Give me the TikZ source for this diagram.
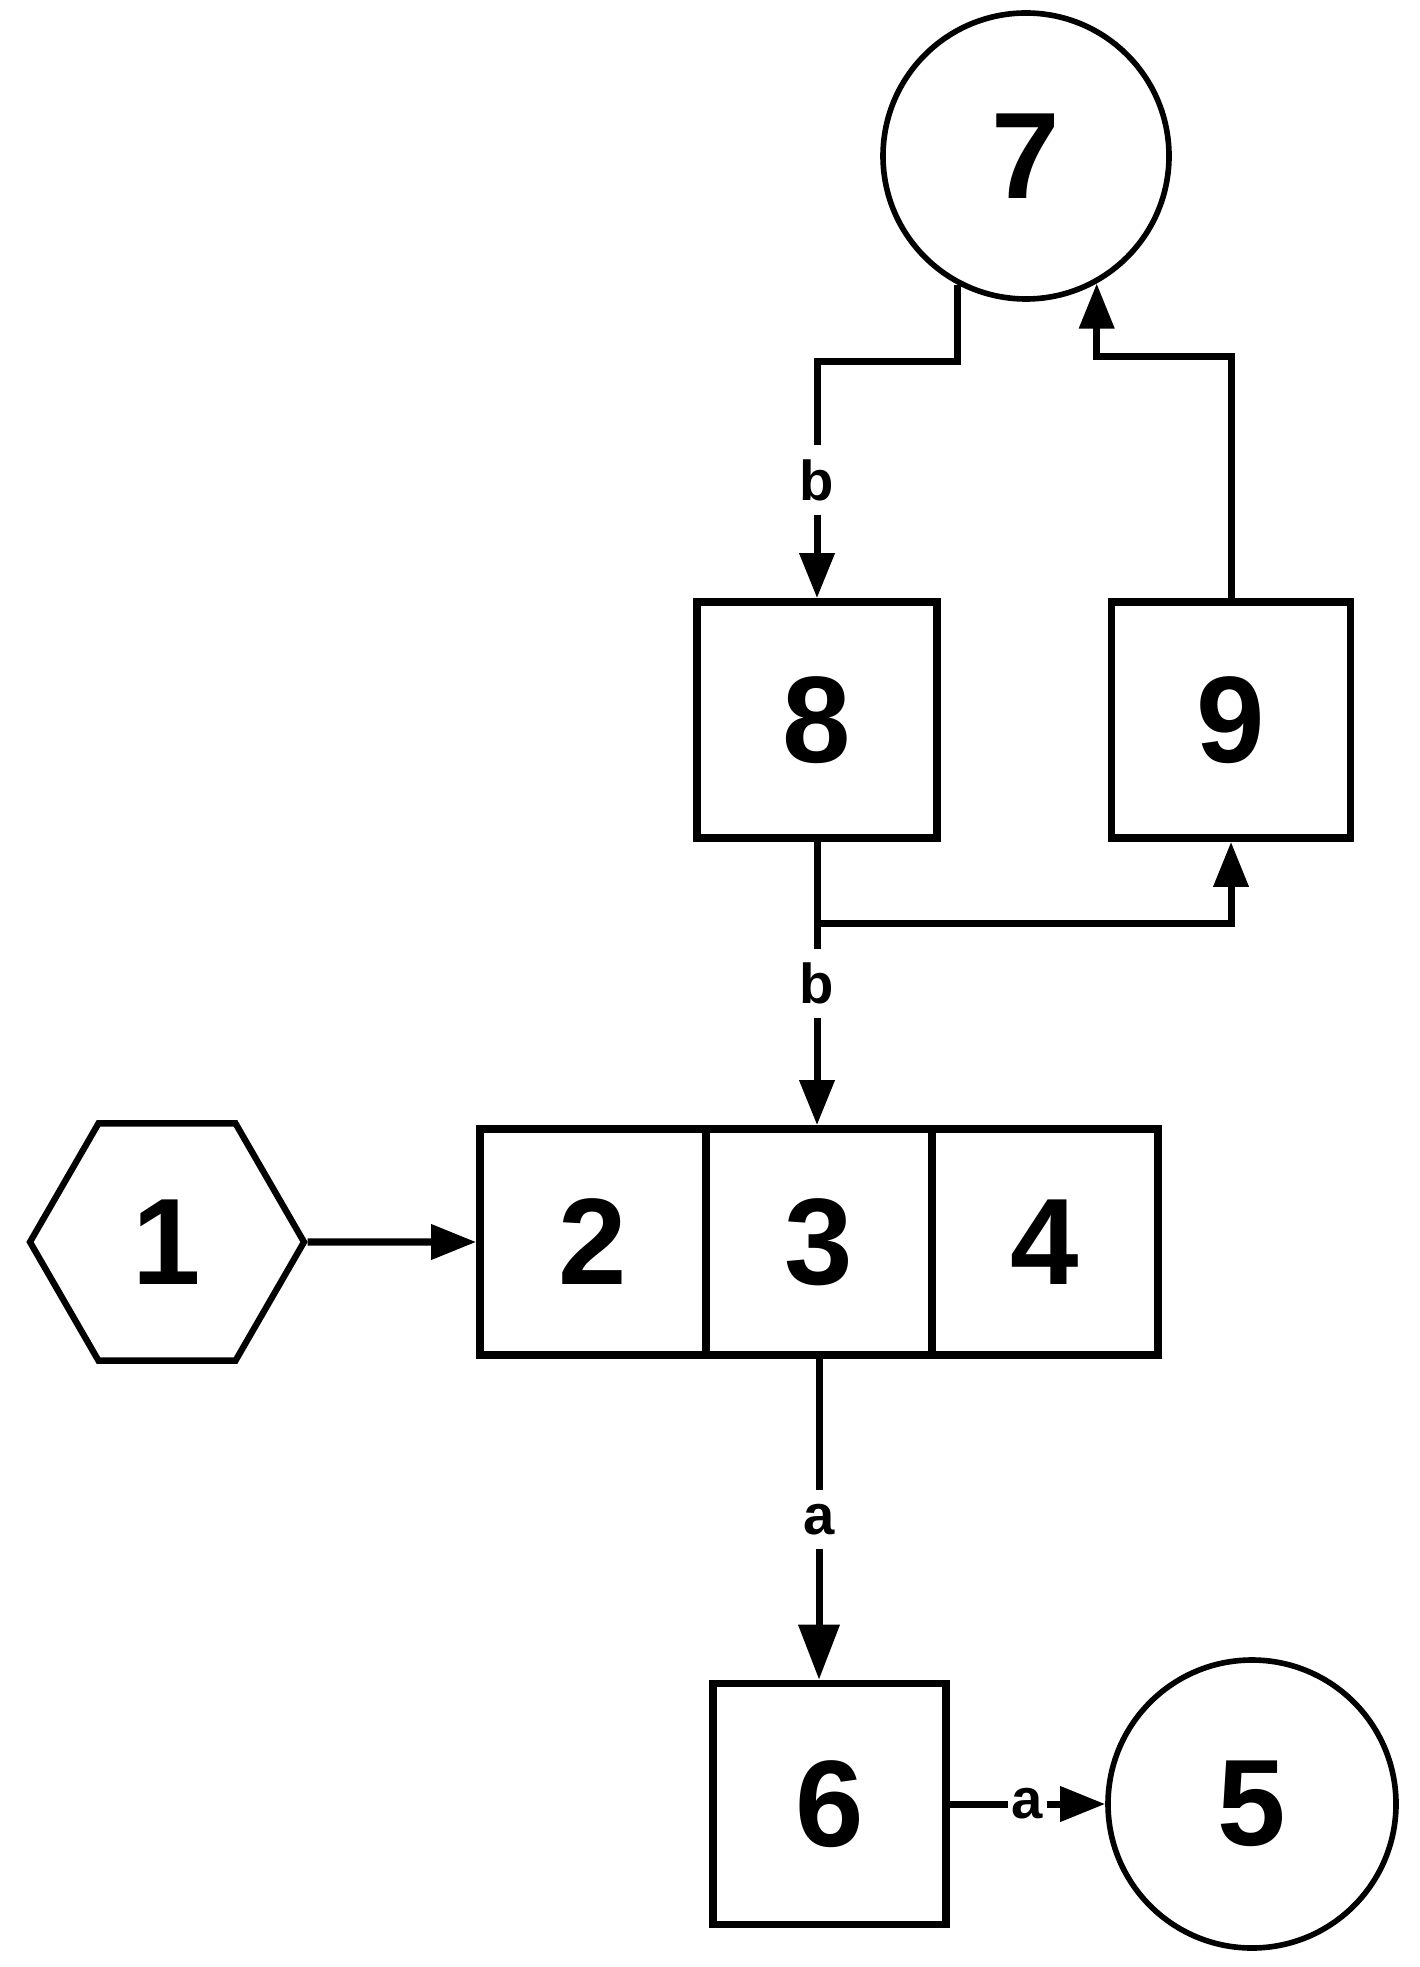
\documentclass[tikz,border=0pt]{standalone}
\usepackage{fontspec}
\setmainfont{Liberation Sans}
\usetikzlibrary{arrows.meta,shapes.geometric}
\newcommand{\chiffre}[1]{\fontsize{35}{40}\selectfont\bfseries #1}

\begin{document}
\begin{tikzpicture}[
    boite/.style={draw, line width=2.2pt, inner sep=0pt},
    rond/.style={draw, circle, line width=1.6pt, inner sep=0pt},
    lien/.style={line width=2pt, -{Triangle[length=4.5mm,width=3.4mm]}},
    grosse/.style={-{Triangle[length=5.5mm,width=4mm]}},
    etiq/.style={fill=white, inner sep=4pt, font=\fontsize{16}{18}\selectfont\bfseries}]
    \useasboundingbox (0,0) rectangle (14.19,-19.67);

    \node[rond, minimum size=2.86cm] (c7) at (10.26,-1.56) {\chiffre{7}};
    \node[boite, minimum width=2.40cm, minimum height=2.36cm] (b8) at (8.17,-7.20) {\chiffre{8}};
    \node[boite, minimum width=2.39cm, minimum height=2.36cm] (b9) at (12.31,-7.20) {\chiffre{9}};

    \node[draw, regular polygon, regular polygon sides=6, minimum size=2.74cm, inner sep=0pt, line width=1.8pt] (h1) at (1.67,-12.42) {\chiffre{1}};
    \node[boite, minimum width=2.26cm, minimum height=2.26cm] (c2) at (5.93,-12.42) {\chiffre{2}};
    \node[boite, minimum width=2.26cm, minimum height=2.26cm] (c3) at (8.19,-12.42) {\chiffre{3}};
    \node[boite, minimum width=2.26cm, minimum height=2.26cm] (c4) at (10.45,-12.42) {\chiffre{4}};

    \node[boite, minimum width=2.33cm, minimum height=2.41cm] (b6) at (8.295,-18.04) {\chiffre{6}};
    \node[rond, minimum size=2.88cm] (c5) at (12.52,-18.04) {\chiffre{5}};

    \draw[lien] (c7.242) -- ++(0,-0.77) -| node[etiq, pos=0.75] {b} (b8.north);
    \draw[lien] (b9.north) -- ++(0,2.42) -| (c7.299);

    \draw[lien] (b8.south) -- node[etiq] {b} (b8.south |- c3.north);
    \draw[lien] (b8.south) -- ++(0,-0.82) -| (b9.south);

    \draw[lien] (h1.east) -- (c2.west);
    \draw[lien, grosse] (c3.south) -- node[etiq] {a} (c3.south |- b6.north);
    \draw[lien] (b6.east) -- node[etiq, inner sep=1pt] {a} (c5.west);
\end{tikzpicture}
\end{document}
